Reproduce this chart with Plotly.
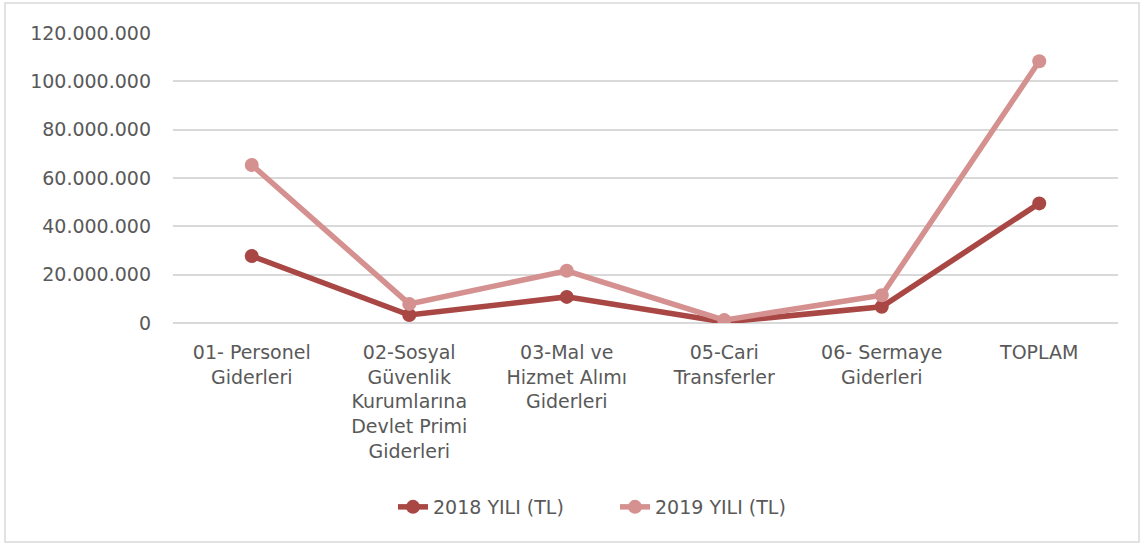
import plotly.graph_objects as go

categories = [
    "01- Personel<br>Giderleri",
    "02-Sosyal<br>Güvenlik<br>Kurumlarına<br>Devlet Primi<br>Giderleri",
    "03-Mal ve<br>Hizmet Alımı<br>Giderleri",
    "05-Cari<br>Transferler",
    "06- Sermaye<br>Giderleri",
    "TOPLAM",
]
values_2018 = [27700000, 3300000, 10800000, 400000, 6700000, 49500000]
values_2019 = [65400000, 7900000, 21600000, 1200000, 11500000, 108300000]
series_names = ["2018 YILI (TL)", "2019 YILI (TL)"]
y_ticks = [0, 20000000, 40000000, 60000000, 80000000, 100000000, 120000000]

c2018 = "#A84744"
c2019 = "#D4918F"
font_family = "'DejaVu Sans', sans-serif"
text_color = "#595959"
fs = 19

fig = go.Figure()
fig.add_trace(go.Scatter(x=categories, y=values_2018, name=series_names[0], mode="lines+markers",
                         line=dict(color=c2018, width=5.5), marker=dict(color=c2018, size=14)))
fig.add_trace(go.Scatter(x=categories, y=values_2019, name=series_names[1], mode="lines+markers",
                         line=dict(color=c2019, width=5.5), marker=dict(color=c2019, size=14)))

L, R, T, B = 173, 26, 33, 222
W, H = 1144, 545
pw = W - L - R
ph = H - T - B

def px_x(p):
    return (p - L) / pw

def px_y(p):
    return (H - B - p) / ph

fig.add_shape(type="rect", xref="paper", yref="paper",
              x0=px_x(5), x1=px_x(1139), y0=px_y(542), y1=px_y(3),
              line=dict(color="#D9D9D9", width=1.5), fillcolor="rgba(0,0,0,0)", layer="below")

fig.update_layout(
    width=W, height=H,
    margin=dict(l=L, r=R, t=T, b=B),
    paper_bgcolor="white", plot_bgcolor="white",
    separators=",.",
    font=dict(family=font_family, size=fs, color=text_color),
    showlegend=True,
    legend=dict(orientation="h", x=px_x(393), xanchor="left", y=px_y(507), yanchor="middle",
                font=dict(size=fs, color=text_color), tracegroupgap=0,
                entrywidth=177, entrywidthmode="pixels"),
    xaxis=dict(showgrid=False, showline=False, zeroline=False, ticks="",
               ticklabelstandoff=16,
               tickfont=dict(size=fs, color=text_color), range=[-0.5, 5.5], fixedrange=True),
    yaxis=dict(range=[0, 120000000], tickvals=y_ticks, tickformat=",d",
               showgrid=True, gridcolor="#D9D9D9", gridwidth=1.5, zeroline=True,
               zerolinecolor="#D9D9D9", zerolinewidth=1.5, showline=False, ticks="",
               ticklabelstandoff=21, fixedrange=True,
               tickfont=dict(size=fs, color=text_color)),
)

fig.write_html("out.html", config={"displayModeBar": False},
               post_script="document.body.style.margin='0';document.body.style.overflow='hidden';")
